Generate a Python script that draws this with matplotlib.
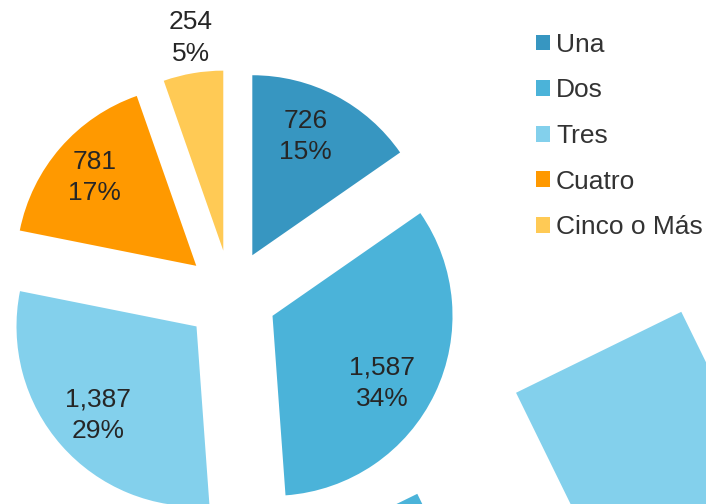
import matplotlib
matplotlib.use("Agg")
import matplotlib.pyplot as plt
import matplotlib.patches as mpatches
import numpy as np

plt.rcParams['font.family'] = ['Liberation Sans', 'DejaVu Sans']

categorias = ["Una", "Dos", "Tres", "Cuatro", "Cinco o Más"]
valores = [726, 1587, 1387, 781, 254]
porcentajes = [15, 34, 29, 17, 5]
colores = ["#3796C1", "#4BB3D9", "#83D0EC", "#FF9900", "#FFCA55"]

# posicion de cada etiqueta: distancia (fraccion del radio) y giro en grados
dist_etiqueta = [0.724, 0.713, 0.736, 0.748, 1.195]
giro_etiqueta = [-3.6, 6.0, -0.6, 0.1, 1.0]

centro = (231, 208)
radio = 180
separacion = 46

fig = plt.figure(figsize=(7.06, 5.04), dpi=100)
ax = fig.add_axes([0, 0, 1, 1])

wedges, _ = ax.pie(valores, colors=colores, startangle=90, counterclock=False,
                   radius=radio, center=centro, explode=[separacion] * len(valores),
                   wedgeprops=dict(linewidth=0))

total = sum(valores)
acum = 0
for v, p, d, g in zip(valores, porcentajes, dist_etiqueta, giro_etiqueta):
    frac = v / total
    theta_m = np.deg2rad(90 - 360 * (acum + frac / 2))
    acum += frac
    # punta de la porcion separada
    px = centro[0] + separacion * np.cos(theta_m)
    py = centro[1] + separacion * np.sin(theta_m)
    theta = theta_m - np.deg2rad(g)
    x = px + d * radio * np.cos(theta)
    y = py + d * radio * np.sin(theta)
    ax.text(x, y, f"{v:,}\n{p}%", ha='center', va='center',
            fontsize=19, color='#262626', linespacing=1.38)

# cuadros sueltos que aparecen en la imagen
ax.add_patch(mpatches.Rectangle((597, -54), 184, 184, angle=26.1,
                                facecolor=colores[2], linewidth=0))
ax.add_patch(mpatches.Rectangle((333, -236), 184, 184, angle=26.1,
                                facecolor=colores[1], linewidth=0))

ax.legend(wedges, categorias, loc='upper left', bbox_to_anchor=(0.759, 0.935),
          frameon=False, fontsize=19, handlelength=0.54, handleheight=0.54,
          handletextpad=0.22, labelspacing=0.82, borderaxespad=0, borderpad=0,
          labelcolor='#333333')

ax.set_xlim(0, 706)
ax.set_ylim(0, 504)
ax.set_aspect('equal')
ax.axis('off')

fig.savefig("out.png", dpi=100)
